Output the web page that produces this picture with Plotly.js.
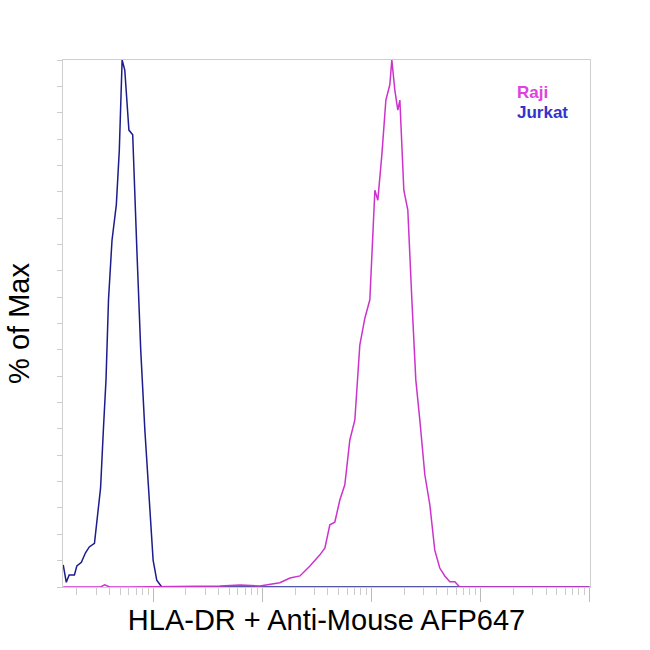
<!DOCTYPE html>
<html>
<head>
<meta charset="utf-8">
<script src="https://cdn.plot.ly/plotly-3.0.1.min.js"></script>
<style>body{margin:0;background:#fff}#g{width:650px;height:650px}</style>
</head>
<body>
<div id="g"></div>
<script>
const jurkatX = [1.5,1.6,1.7,1.9,2.0,2.2,2.4,2.6,2.9,3.1,3.3,3.5,3.7,3.9,4.2,4.6,4.9,5.2,5.5,6.0,6.5,7.1,7.7,8.4,9.4,10,10.8,12,14.3,100000];
const jurkatY = [4.2,0.9,2.3,2.3,4.0,4.7,6.5,7.6,8.3,13.7,18.8,29.8,39.3,54.5,65.8,72.5,82.9,100,98.1,86.7,85.8,63.9,45.0,29.8,14.6,5.1,1.3,0,0,0];
const rajiX = [1.5,3.3,3.6,4.0,6.1,41,63,95,145,180,222,274,338,376,417,463,515,572,636,707,785,873,970,1079,1148,1250,1361,1479,1543,1644,1751,1828,1988,2163,2355,2560,2786,3097,3443,3819,4246,4721,5248,5834,6471,100000];
const rajiY = [0,0,0.4,0,0,0.2,0.4,0.2,0.8,1.7,2.1,4.0,6.1,7.4,11.8,12.3,16.5,19.4,27.9,31.7,45.9,51.0,54.5,75.3,73.4,82.0,92.4,95.3,100,94.3,90.5,92.4,75.3,71.5,54.5,39.3,31.7,21.3,15.6,7.0,3.6,2.1,1.0,1.0,0,0];

const traces = [
  { x: jurkatX, y: jurkatY, mode: 'lines', name: 'Jurkat', line: { color: '#1c1c8c', width: 1.5 } },
  { x: rajiX, y: rajiY, mode: 'lines', name: 'Raji', line: { color: '#cc33cc', width: 1.5 } },
];
Plotly.newPlot('g', traces, {
  width: 650, height: 650, showlegend: false,
  paper_bgcolor: '#fff', plot_bgcolor: '#fff',
  margin: { l: 63, r: 60, t: 60, b: 63 },
  font: { family: 'Liberation Sans, Arial, sans-serif', color: '#000' },
  xaxis: {
    type: 'log', range: [0.174, 5.005], showgrid: false, zeroline: false,
    showline: true, linecolor: '#cfcfcf', mirror: true,
    ticks: 'outside', ticklen: 14, tickcolor: '#bbb', showticklabels: false,
    dtick: 1, minor: { ticks: 'outside', ticklen: 7, tickcolor: '#ccc', dtick: 'D1' },
    title: { text: 'HLA-DR + Anti-Mouse AFP647', font: { size: 29 }, standoff: 8 },
  },
  yaxis: {
    range: [0, 100], showgrid: false, zeroline: false,
    showline: true, linecolor: '#cfcfcf', mirror: true,
    ticks: 'outside', ticklen: 5, tickcolor: '#ccc', dtick: 5, showticklabels: false,
    title: { text: '% of Max', font: { size: 29 }, standoff: 18 },
  },
  annotations: [
    { text: '<b>Raji</b>', x: 0.857, y: 0.96, xref: 'paper', yref: 'paper', xanchor: 'left', showarrow: false, font: { size: 17, color: '#dd44dd' } },
    { text: '<b>Jurkat</b>', x: 0.857, y: 0.922, xref: 'paper', yref: 'paper', xanchor: 'left', showarrow: false, font: { size: 17, color: '#3333cc' } },
  ],
}, { staticPlot: true });
</script>
</body>
</html>
